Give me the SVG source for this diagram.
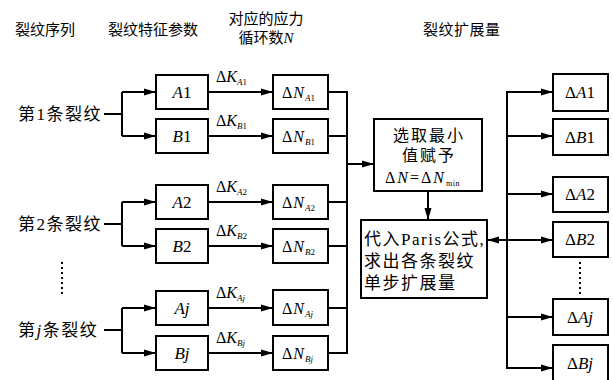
<svg xmlns="http://www.w3.org/2000/svg" width="613" height="380" viewBox="0 0 613 380">
<defs>
<marker id="ah" markerUnits="userSpaceOnUse" markerWidth="13" markerHeight="8" refX="12" refY="4" orient="auto">
<path d="M0,0.5 L12,4 L0,7.5 z" fill="#000"/>
</marker>
<style>
text{font-family:"Liberation Serif","Noto Sans CJK SC",serif;fill:#000;}
.h{font-size:15px;}
.lb{font-size:17px;letter-spacing:1.5px;}
.bx{fill:#fff;stroke:#000;stroke-width:2;}
.ln{fill:none;stroke:#000;stroke-width:2;}
.ar{fill:none;stroke:#000;stroke-width:2;marker-end:url(#ah);}
.bt{font-size:17px;text-anchor:middle;}
.kl{font-size:16px;}
.nl{font-size:16px;letter-spacing:1px;}
.sub{font-size:9px;font-style:italic;letter-spacing:0;}
.i{font-style:italic;}
.dot{fill:none;stroke:#000;stroke-width:2;stroke-dasharray:2,3;}
.ct{font-size:16px;letter-spacing:2px;text-anchor:middle;}
.pt{font-size:17px;letter-spacing:1.5px;}
</style>
</defs>

<g id="headers">
<text class="h" x="15" y="35">裂纹序列</text>
<text class="h" x="108" y="35">裂纹特征参数</text>
<text class="h" x="266" y="24" text-anchor="middle">对应的应力</text>
<text class="h" x="266" y="43" text-anchor="middle">循环数<tspan class="i">N</tspan></text>
<text class="h" x="423" y="35" letter-spacing="0.5">裂纹扩展量</text>
</g>

<g id="connectors">
<path class="ln" d="M104,114 H122 M122,92 V136 M104,224 H122 M122,202 V246 M104,330 H122 M122,308 V353"/>
<path class="ar" d="M122,92 H156"/>
<path class="ar" d="M122,136 H156"/>
<path class="ar" d="M122,202 H156"/>
<path class="ar" d="M122,246 H156"/>
<path class="ar" d="M122,308 H156"/>
<path class="ar" d="M122,353 H156"/>
<path class="ar" d="M208,92 H273"/>
<path class="ar" d="M208,136 H273"/>
<path class="ar" d="M208,202 H273"/>
<path class="ar" d="M208,246 H273"/>
<path class="ar" d="M208,308 H273"/>
<path class="ar" d="M208,353 H273"/>
<path class="ln" d="M328,92 H347 M328,136 H347 M328,202 H347 M328,246 H347 M328,308 H347 M328,353 H347 M347,91 V354"/>
<path class="ar" d="M347,164 H374"/>
<path class="ar" d="M428,191 V220"/>
<path class="ln" d="M507,91 V369"/>
<path class="ar" d="M507,240 H487"/>
<path class="ar" d="M507,92 H553"/>
<path class="ar" d="M507,136 H553"/>
<path class="ar" d="M507,194 H553"/>
<path class="ar" d="M507,240 H553"/>
<path class="ar" d="M507,317 H553"/>
<path class="ar" d="M507,368 H553"/>
</g>

<g id="crack1"><text class="lb" x="18" y="120">第1条裂纹</text></g>
<g id="crack2"><text class="lb" x="18" y="230">第2条裂纹</text></g>
<g id="crackj"><text class="lb" x="18" y="336">第<tspan class="i">j</tspan>条裂纹</text></g>
<g id="dots-left"><path class="dot" d="M62,262 V296"/></g>

<g id="A1"><rect class="bx" x="156" y="75" width="52" height="34"/><text class="bt" x="182" y="98"><tspan class="i">A</tspan>1</text></g>
<g id="B1"><rect class="bx" x="156" y="119" width="52" height="34"/><text class="bt" x="182" y="142"><tspan class="i">B</tspan>1</text></g>
<g id="A2"><rect class="bx" x="156" y="185" width="52" height="34"/><text class="bt" x="182" y="208"><tspan class="i">A</tspan>2</text></g>
<g id="B2"><rect class="bx" x="156" y="229" width="52" height="34"/><text class="bt" x="182" y="252"><tspan class="i">B</tspan>2</text></g>
<g id="Aj"><rect class="bx" x="156" y="291" width="52" height="34"/><text class="bt i" x="182" y="314">Aj</text></g>
<g id="Bj"><rect class="bx" x="156" y="336" width="52" height="34"/><text class="bt i" x="182" y="359">Bj</text></g>

<g id="K-labels">
<text class="kl" x="216" y="82">Δ<tspan class="i">K</tspan><tspan class="sub" dy="3">A</tspan><tspan font-size="9">1</tspan></text>
<text class="kl" x="216" y="126">Δ<tspan class="i">K</tspan><tspan class="sub" dy="3">B</tspan><tspan font-size="9">1</tspan></text>
<text class="kl" x="216" y="192">Δ<tspan class="i">K</tspan><tspan class="sub" dy="3">A</tspan><tspan font-size="9">2</tspan></text>
<text class="kl" x="216" y="236">Δ<tspan class="i">K</tspan><tspan class="sub" dy="3">B</tspan><tspan font-size="9">2</tspan></text>
<text class="kl" x="216" y="298">Δ<tspan class="i">K</tspan><tspan class="sub" dy="3">Aj</tspan></text>
<text class="kl" x="216" y="343">Δ<tspan class="i">K</tspan><tspan class="sub" dy="3">Bj</tspan></text>
</g>

<g id="NA1"><rect class="bx" x="273" y="75" width="55" height="34"/><text class="nl" x="282" y="98">Δ<tspan class="i">N</tspan><tspan class="sub" dy="3">A</tspan><tspan font-size="9">1</tspan></text></g>
<g id="NB1"><rect class="bx" x="273" y="119" width="55" height="34"/><text class="nl" x="282" y="142">Δ<tspan class="i">N</tspan><tspan class="sub" dy="3">B</tspan><tspan font-size="9">1</tspan></text></g>
<g id="NA2"><rect class="bx" x="273" y="185" width="55" height="34"/><text class="nl" x="282" y="208">Δ<tspan class="i">N</tspan><tspan class="sub" dy="3">A</tspan><tspan font-size="9">2</tspan></text></g>
<g id="NB2"><rect class="bx" x="273" y="229" width="55" height="34"/><text class="nl" x="282" y="252">Δ<tspan class="i">N</tspan><tspan class="sub" dy="3">B</tspan><tspan font-size="9">2</tspan></text></g>
<g id="NAj"><rect class="bx" x="273" y="290" width="55" height="35"/><text class="nl" x="282" y="314">Δ<tspan class="i">N</tspan><tspan class="sub" dy="3">Aj</tspan></text></g>
<g id="NBj"><rect class="bx" x="273" y="336" width="55" height="34"/><text class="nl" x="282" y="359">Δ<tspan class="i">N</tspan><tspan class="sub" dy="3">Bj</tspan></text></g>

<g id="select-min">
<rect class="bx" x="374" y="119" width="108" height="72"/>
<text class="ct" x="429" y="141">选取最小</text>
<text class="ct" x="429" y="161">值赋予</text>
<text font-size="16" letter-spacing="2" x="385" y="183">Δ<tspan class="i">N</tspan>=Δ<tspan class="i">N</tspan><tspan font-size="8" dy="3" letter-spacing="0.5">min</tspan></text>
</g>

<g id="paris">
<rect class="bx" x="361" y="220" width="126" height="78"/>
<text class="pt" x="364" y="245">代入Paris公式,</text>
<text class="pt" x="364" y="267">求出各条裂纹</text>
<text class="pt" x="364" y="289">单步扩展量</text>
</g>

<g id="dA1"><rect class="bx" x="553" y="74" width="55" height="37"/><text class="bt" x="580" y="98">Δ<tspan class="i">A</tspan>1</text></g>
<g id="dB1"><rect class="bx" x="553" y="119" width="55" height="36"/><text class="bt" x="580" y="143">Δ<tspan class="i">B</tspan>1</text></g>
<g id="dA2"><rect class="bx" x="553" y="177" width="55" height="35"/><text class="bt" x="580" y="200">Δ<tspan class="i">A</tspan>2</text></g>
<g id="dB2"><rect class="bx" x="553" y="222" width="55" height="35"/><text class="bt" x="580" y="245">Δ<tspan class="i">B</tspan>2</text></g>
<g id="dots-right"><path class="dot" d="M580,262 V294"/></g>
<g id="dAj"><rect class="bx" x="553" y="299" width="55" height="36"/><text class="bt" x="580" y="323">Δ<tspan class="i">Aj</tspan></text></g>
<g id="dBj"><rect class="bx" x="553" y="345" width="55" height="36"/><text class="bt" x="580" y="369">Δ<tspan class="i">Bj</tspan></text></g>
</svg>
